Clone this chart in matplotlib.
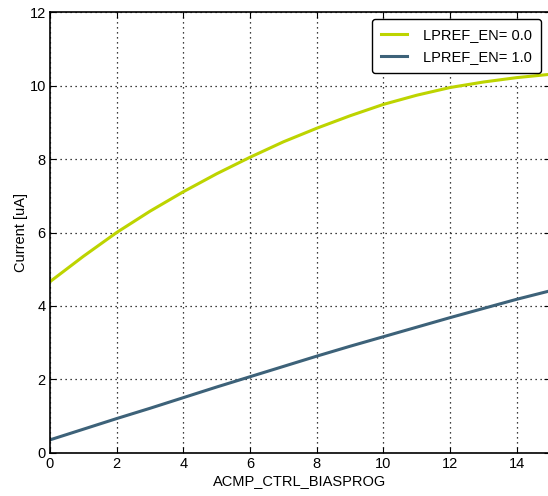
import matplotlib
matplotlib.use('Agg')
import matplotlib.pyplot as plt

# data
x = [0, 1, 2, 3, 4, 5, 6, 7, 8, 9, 10, 11, 12, 13, 14, 15]
lp0 = [4.66, 5.35, 6.0, 6.58, 7.11, 7.6, 8.05, 8.47, 8.84, 9.18, 9.49, 9.74, 9.95, 10.1, 10.22, 10.31]
lp1 = [0.35, 0.64, 0.93, 1.21, 1.5, 1.79, 2.07, 2.35, 2.63, 2.9, 3.16, 3.42, 3.68, 3.93, 4.18, 4.41]
labels = ['LPREF_EN= 0.0', 'LPREF_EN= 1.0']

plt.rcParams['font.family'] = ['Liberation Sans', 'DejaVu Sans']
plt.rcParams['font.size'] = 10.5

fig = plt.figure(figsize=(5.48, 4.96), dpi=100)
ax = fig.add_axes([50 / 548, 43.3 / 496, 500 / 548, 440.4 / 496])

ax.plot(x, lp0, color='#bdd400', lw=2.2, label=labels[0])
ax.plot(x, lp1, color='#3d6279', lw=2.2, label=labels[1])

ax.set_xlim(0, 15)
ax.set_ylim(0, 12)
ax.set_xticks(range(0, 16, 2))
ax.set_yticks(range(0, 13, 2))
ax.grid(True, linestyle=(0, (1, 3)), color='black', lw=0.9)
ax.tick_params(direction='in', top=True, right=True, length=4, pad=3)
for s in ax.spines.values():
    s.set_linewidth(1.2)

ax.set_xlabel('ACMP_CTRL_BIASPROG', labelpad=2)
ax.set_ylabel('Current [uA]', labelpad=1)

leg = ax.legend(loc='upper right', bbox_to_anchor=(0.982, 0.985), borderaxespad=0,
                fancybox=True, framealpha=1, edgecolor='black', handlelength=1.8,
                handletextpad=1.1, borderpad=0.6, labelspacing=0.6)
leg.get_frame().set_linewidth(1.0)

fig.savefig('out.png', dpi=100)
